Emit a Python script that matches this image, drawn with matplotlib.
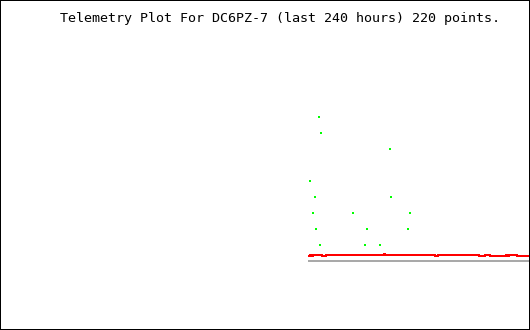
#!/usr/bin/env python3
import matplotlib
import matplotlib.pyplot as plt

matplotlib.use('agg')

TITLE = 'Telemetry Plot For DC6PZ-7 (last 240 hours) 220 points.'

# red channel: step series, hours before now -> level
red_hours = [-100.1, -99.6, -99.2, -98.3, -94.2, -92.4, -66.1, -65.7, -43.0,
             -41.7, -23.1, -20.4, -18.1, -10.9, -10.0, -9.5, -5.9, -0.5]
red_vals = [0.31, 0.375, 0.31, 0.375, 0.31, 0.375, 0.44, 0.375, 0.31,
            0.375, 0.31, 0.375, 0.31, 0.375, 0.31, 0.375, 0.31, 0.31]

# grey reference channel
grey_hours = [-100.1, -0.5]
grey_vals = [0.0, 0.0]

# green channel: sparse counts
green_hours = [-95.4, -94.5, -63.4, -99.5, -97.2, -62.8, -98.1, -80.3, -54.3,
               -96.8, -73.9, -55.4, -95.0, -74.6, -67.9]
green_vals = [9, 8, 7, 5, 4, 4, 3, 3, 3, 2, 2, 2, 1, 1, 1]

W, H = 530, 330
fig = plt.figure(figsize=(W / 100, H / 100), dpi=100)
ax = fig.add_axes([0, 0, 1, 1])
ax.set_xlim(-240, 0)
ax.set_ylim(-(H - 261) / 16, 261 / 16)  # 16 px per unit, zero at row 261
ax.axis('off')

ax.plot(grey_hours, grey_vals, color='#a9a9a9', lw=1.44, antialiased=False)
ax.step(red_hours, red_vals, where='post', color='#ff0000', lw=1.44,
        antialiased=False)
ax.plot(green_hours, green_vals, 's', color='#00ff00', markersize=1.8,
        markeredgewidth=0, antialiased=False)

fig.text(60 / W, 1 - 22 / H, TITLE, family='DejaVu Sans Mono', fontsize=9.6,
         ha='left', va='baseline')

# 1px frame around the whole picture
frame = plt.Rectangle((0.5 / W, 0.5 / H), (W - 1) / W, (H - 1) / H,
                      transform=fig.transFigure, fill=False,
                      ec='black', lw=0.72, antialiased=False)
frame.set_snap(False)
fig.patches.append(frame)

fig.savefig('out.png', dpi=100)
